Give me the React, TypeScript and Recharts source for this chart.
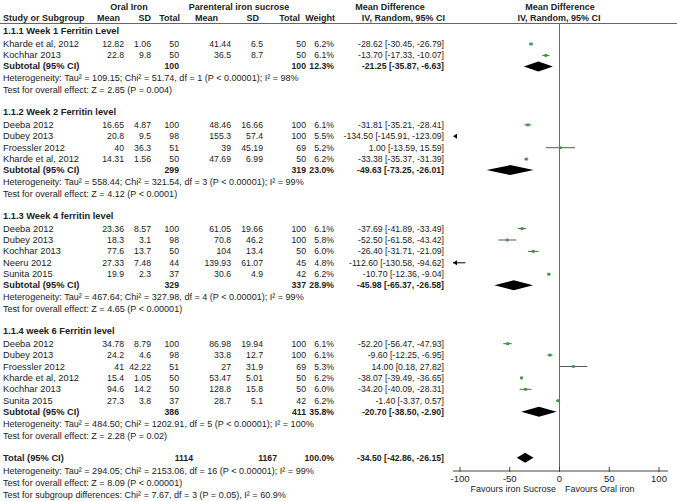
import React from "react";
import {
  ComposedChart,
  XAxis,
  YAxis,
  Scatter,
  ReferenceLine,
  ReferenceArea,
  ReferenceDot
} from "recharts";

type Study = {
  study: string;
  oMean: number;
  oSd: number;
  oN: number;
  pMean: number;
  pSd: number;
  pN: number;
  weight: number;
  md: number;
  lo: number;
  hi: number;
};

type Pooled = { oN: number; pN: number; weight: number; md: number; lo: number; hi: number };

const groupTitles = [
  "1.1.1 Week 1 Ferritin Level",
  "1.1.2 Week 2 Ferritin level",
  "1.1.3 Week 4 ferritin level",
  "1.1.4 week 6 Ferritin level"
];

const week1Studies: Study[] = [
  { study: "Kharde et al, 2012", oMean: 12.82, oSd: 1.06, oN: 50, pMean: 41.44, pSd: 6.5, pN: 50, weight: 6.2, md: -28.62, lo: -30.45, hi: -26.79 },
  { study: "Kochhar 2013", oMean: 22.8, oSd: 9.8, oN: 50, pMean: 36.5, pSd: 8.7, pN: 50, weight: 6.1, md: -13.7, lo: -17.33, hi: -10.07 }
];

const week2Studies: Study[] = [
  { study: "Deeba 2012", oMean: 16.65, oSd: 4.87, oN: 100, pMean: 48.46, pSd: 16.66, pN: 100, weight: 6.1, md: -31.81, lo: -35.21, hi: -28.41 },
  { study: "Dubey 2013", oMean: 20.8, oSd: 9.5, oN: 98, pMean: 155.3, pSd: 57.4, pN: 100, weight: 5.5, md: -134.5, lo: -145.91, hi: -123.09 },
  { study: "Froessler 2012", oMean: 40, oSd: 36.3, oN: 51, pMean: 39, pSd: 45.19, pN: 69, weight: 5.2, md: 1.0, lo: -13.59, hi: 15.59 },
  { study: "Kharde et al, 2012", oMean: 14.31, oSd: 1.56, oN: 50, pMean: 47.69, pSd: 6.99, pN: 50, weight: 6.2, md: -33.38, lo: -35.37, hi: -31.39 }
];

const week4Studies: Study[] = [
  { study: "Deeba 2012", oMean: 23.36, oSd: 8.57, oN: 100, pMean: 61.05, pSd: 19.66, pN: 100, weight: 6.1, md: -37.69, lo: -41.89, hi: -33.49 },
  { study: "Dubey 2013", oMean: 18.3, oSd: 3.1, oN: 98, pMean: 70.8, pSd: 46.2, pN: 100, weight: 5.8, md: -52.5, lo: -61.58, hi: -43.42 },
  { study: "Kochhar 2013", oMean: 77.6, oSd: 13.7, oN: 50, pMean: 104, pSd: 13.4, pN: 50, weight: 6.0, md: -26.4, lo: -31.71, hi: -21.09 },
  { study: "Neeru 2012", oMean: 27.33, oSd: 7.48, oN: 44, pMean: 139.93, pSd: 61.07, pN: 45, weight: 4.8, md: -112.6, lo: -130.58, hi: -94.62 },
  { study: "Sunita 2015", oMean: 19.9, oSd: 2.3, oN: 37, pMean: 30.6, pSd: 4.9, pN: 42, weight: 6.2, md: -10.7, lo: -12.36, hi: -9.04 }
];

const week6Studies: Study[] = [
  { study: "Deeba 2012", oMean: 34.78, oSd: 8.79, oN: 100, pMean: 86.98, pSd: 19.94, pN: 100, weight: 6.1, md: -52.2, lo: -56.47, hi: -47.93 },
  { study: "Dubey 2013", oMean: 24.2, oSd: 4.6, oN: 98, pMean: 33.8, pSd: 12.7, pN: 100, weight: 6.1, md: -9.6, lo: -12.25, hi: -6.95 },
  { study: "Froessler 2012", oMean: 41, oSd: 42.22, oN: 51, pMean: 27, pSd: 31.9, pN: 69, weight: 5.3, md: 14.0, lo: 0.18, hi: 27.82 },
  { study: "Kharde et al, 2012", oMean: 15.4, oSd: 1.05, oN: 50, pMean: 53.47, pSd: 5.01, pN: 50, weight: 6.2, md: -38.07, lo: -39.49, hi: -36.65 },
  { study: "Kochhar 2013", oMean: 94.6, oSd: 14.2, oN: 50, pMean: 128.8, pSd: 15.8, pN: 50, weight: 6.0, md: -34.2, lo: -40.09, hi: -28.31 },
  { study: "Sunita 2015", oMean: 27.3, oSd: 3.8, oN: 37, pMean: 28.7, pSd: 5.1, pN: 42, weight: 6.2, md: -1.4, lo: -3.37, hi: 0.57 }
];

const subtotals: Pooled[] = [
  { oN: 100, pN: 100, weight: 12.3, md: -21.25, lo: -35.87, hi: -6.63 },
  { oN: 299, pN: 319, weight: 23.0, md: -49.63, lo: -73.25, hi: -26.01 },
  { oN: 329, pN: 337, weight: 28.9, md: -45.98, lo: -65.37, hi: -26.58 },
  { oN: 386, pN: 411, weight: 35.8, md: -20.7, lo: -38.5, hi: -2.9 }
];

const heterogeneityNotes = [
  "Heterogeneity: Tau² = 109.15; Chi² = 51.74, df = 1 (P < 0.00001); I² = 98%",
  "Heterogeneity: Tau² = 558.44; Chi² = 321.54, df = 3 (P < 0.00001); I² = 99%",
  "Heterogeneity: Tau² = 467.64; Chi² = 327.98, df = 4 (P < 0.00001); I² = 99%",
  "Heterogeneity: Tau² = 484.50; Chi² = 1202.91, df = 5 (P < 0.00001); I² = 100%"
];

const overallNotes = [
  "Test for overall effect: Z = 2.85 (P = 0.004)",
  "Test for overall effect: Z = 4.12 (P < 0.0001)",
  "Test for overall effect: Z = 4.65 (P < 0.00001)",
  "Test for overall effect: Z = 2.28 (P = 0.02)"
];

const total: Pooled = { oN: 1114, pN: 1167, weight: 100.0, md: -34.5, lo: -42.86, hi: -26.15 };

const totalNotes = [
  "Heterogeneity: Tau² = 294.05; Chi² = 2153.06, df = 16 (P < 0.00001); I² = 99%",
  "Test for overall effect: Z = 8.09 (P < 0.00001)",
  "Test for subgroup differences: Chi² = 7.67, df = 3 (P = 0.05), I² = 60.9%"
];

const xTicks = [-100, -50, 0, 50, 100];
const favourLabels = ["Favours iron Sucrose", "Favours Oral iron"];

const groups = [week1Studies, week2Studies, week4Studies, week6Studies];

const W = 677;
const H = 501;
const AXIS_Y = 471;
const FONT = "'Liberation Sans', Arial, sans-serif";
const FS_TEXT = 9.3; // names, titles
const FS_NOTE = 9.05; // heterogeneity / test lines
const FS_NUM = 8.7; // numeric columns
const FS_HEAD = 9;

// row layout, y values are pixel rows (the y axis maps 1:1)
type Row =
  | { kind: "title"; y: number; text: string }
  | { kind: "study"; y: number; s: Study }
  | { kind: "pooled"; y: number; p: Pooled; label: string; isTotal?: boolean }
  | { kind: "note"; y: number; text: string };

function buildRows(): Row[] {
  const rows: Row[] = [];
  let y = 31;
  groups.forEach((g, gi) => {
    rows.push({ kind: "title", y, text: groupTitles[gi] });
    y += 13;
    g.forEach((s, i) => {
      if (i > 0) y += 11.4;
      rows.push({ kind: "study", y, s });
    });
    y += 11;
    rows.push({ kind: "pooled", y, p: subtotals[gi], label: "Subtotal (95% CI)" });
    y += 12;
    rows.push({ kind: "note", y, text: heterogeneityNotes[gi] });
    y += 12;
    rows.push({ kind: "note", y, text: overallNotes[gi] });
    y += 21.5;
  });
  y += 0.5;
  rows.push({ kind: "pooled", y, p: total, label: "Total (95% CI)", isTotal: true });
  y += 12.8;
  totalNotes.forEach((t, i) => {
    if (i > 0) y += 12;
    rows.push({ kind: "note", y, text: t });
  });
  return rows;
}

const rows = buildRows();
const X_MIN = xTicks[0];
const X_MAX = xTicks[xTicks.length - 1];
const clamp = (v: number) => Math.max(X_MIN, Math.min(X_MAX, v));
const ci = (p: { md: number; lo: number; hi: number }) =>
  `${p.md.toFixed(2)} [${p.lo.toFixed(2)}, ${p.hi.toFixed(2)}]`;

const studyRows = rows.filter((r) => r.kind === "study") as Extract<Row, { kind: "study" }>[];
const pooledRows = rows.filter((r) => r.kind === "pooled") as Extract<Row, { kind: "pooled" }>[];
const squares = studyRows
  .filter((r) => r.s.md >= X_MIN && r.s.md <= X_MAX)
  .map((r) => ({ x: r.s.md, y: r.y, weight: r.s.weight }));

const Square = (props: any) => {
  const side = Math.sqrt(props.payload.weight) * 1.15;
  return (
    <rect x={props.cx - side / 2} y={props.cy - side / 2} width={side} height={side} fill="#3f9a3f" />
  );
};

const Diamond = (props: any) => {
  const { x, y, width, height } = props;
  const cx = props.mdPx ?? x + width / 2;
  return (
    <polygon
      points={`${x},${y + height / 2} ${cx},${y} ${x + width},${y + height / 2} ${cx},${y + height}`}
      fill="#000"
    />
  );
};

const LeftArrow = (props: any) => {
  const { cx, cy, withLine } = props;
  const tip = cx - 7;
  return (
    <g>
      {withLine && <line x1={tip} y1={cy} x2={cx} y2={cy} stroke="#000" strokeWidth={1} />}
      <polygon points={`${tip},${cy} ${tip + 4},${cy - 2.5} ${tip + 4},${cy + 2.5}`} fill="#000" />
    </g>
  );
};

const AxisTick = (props: any) => {
  const { x, y, payload } = props;
  return (
    <g>
      <line x1={x} y1={y - 4} x2={x} y2={y + 1} stroke="#444" />
      <text x={x} y={y + 7} textAnchor="middle" dominantBaseline="central" fontSize={9.5} fontFamily={FONT} fill="#222">
        {payload.value}
      </text>
    </g>
  );
};

const cols = { oMean: 124, oSd: 151, oN: 179, pMean: 231, pSd: 263, pN: 306, weight: 334, ci: 444 };

function Txt(p: {
  x: number;
  y: number;
  children: React.ReactNode;
  bold?: boolean;
  anchor?: "start" | "middle" | "end";
  size?: number;
}) {
  return (
    <text
      x={p.x}
      y={p.y}
      textAnchor={p.anchor ?? "start"}
      dominantBaseline="central"
      fontSize={p.size ?? FS_NUM}
      fontWeight={p.bold ? "bold" : "normal"}
      fontFamily={FONT}
      fill="#222"
    >
      {p.children}
    </text>
  );
}

function TableText() {
  return (
    <svg width={W} height={H} style={{ position: "absolute", left: 0, top: 0, pointerEvents: "none" }}>
      <Txt x={129} y={7} bold anchor="middle" size={FS_HEAD}>Oral Iron</Txt>
      <Txt x={239} y={7} bold anchor="middle" size={FS_HEAD}>Parenteral iron sucrose</Txt>
      <Txt x={390} y={7} bold anchor="middle" size={FS_HEAD}>Mean Difference</Txt>
      <Txt x={560} y={7} bold anchor="middle" size={FS_HEAD}>Mean Difference</Txt>
      <Txt x={3} y={18} bold size={FS_HEAD}>Study or Subgroup</Txt>
      <Txt x={120} y={18} bold anchor="end" size={FS_HEAD}>Mean</Txt>
      <Txt x={151} y={18} bold anchor="end" size={FS_HEAD}>SD</Txt>
      <Txt x={180} y={18} bold anchor="end" size={FS_HEAD}>Total</Txt>
      <Txt x={218} y={18} bold anchor="end" size={FS_HEAD}>Mean</Txt>
      <Txt x={259} y={18} bold anchor="end" size={FS_HEAD}>SD</Txt>
      <Txt x={300} y={18} bold anchor="end" size={FS_HEAD}>Total</Txt>
      <Txt x={335} y={18} bold anchor="end" size={FS_HEAD}>Weight</Txt>
      <Txt x={445} y={18} bold anchor="end" size={FS_HEAD}>IV, Random, 95% CI</Txt>
      <Txt x={559} y={18} bold anchor="middle" size={FS_HEAD}>IV, Random, 95% CI</Txt>
      <line x1={0} y1={23.5} x2={W} y2={23.5} stroke="#666" strokeWidth={1} />
      {rows.map((r, i) => {
        if (r.kind === "title") return <Txt key={i} x={3} y={r.y} bold size={FS_TEXT}>{r.text}</Txt>;
        if (r.kind === "note") return <Txt key={i} x={3} y={r.y} size={FS_NOTE}>{r.text}</Txt>;
        if (r.kind === "study") {
          const s = r.s;
          return (
            <g key={i}>
              <Txt x={3} y={r.y} size={FS_TEXT}>{s.study}</Txt>
              <Txt x={cols.oMean} y={r.y} anchor="end">{s.oMean}</Txt>
              <Txt x={cols.oSd} y={r.y} anchor="end">{s.oSd}</Txt>
              <Txt x={cols.oN} y={r.y} anchor="end">{s.oN}</Txt>
              <Txt x={cols.pMean} y={r.y} anchor="end">{s.pMean}</Txt>
              <Txt x={cols.pSd} y={r.y} anchor="end">{s.pSd}</Txt>
              <Txt x={cols.pN} y={r.y} anchor="end">{s.pN}</Txt>
              <Txt x={cols.weight} y={r.y} anchor="end">{s.weight.toFixed(1)}%</Txt>
              <Txt x={cols.ci} y={r.y} anchor="end">{ci(s)}</Txt>
            </g>
          );
        }
        const p = r.p;
        return (
          <g key={i}>
            <Txt x={3} y={r.y} bold size={FS_TEXT}>{r.label}</Txt>
            <Txt x={r.isTotal ? 193 : cols.oN} y={r.y} bold anchor="end">{p.oN}</Txt>
            <Txt x={r.isTotal ? 277 : cols.pN} y={r.y} bold anchor="end">{p.pN}</Txt>
            <Txt x={cols.weight} y={r.y} bold anchor="end">{p.weight.toFixed(1)}%</Txt>
            <Txt x={cols.ci} y={r.y} bold anchor="end">{ci(p)}</Txt>
          </g>
        );
      })}
      <Txt x={556} y={489} anchor="end" size={9}>{favourLabels[0]}</Txt>
      <Txt x={565} y={489} size={9}>{favourLabels[1]}</Txt>
    </svg>
  );
}

export default function App() {
  return (
    <div style={{ position: "absolute", left: 0, top: 0, width: W, height: H, background: "#fff" }}>
      <ComposedChart width={W} height={H} margin={{ top: 0, right: 9, bottom: 0, left: 453 }}>
        <XAxis
          type="number"
          dataKey="x"
          domain={[X_MIN, X_MAX]}
          ticks={xTicks}
          allowDataOverflow
          padding={{ left: 7, right: 9 }}
          axisLine={{ stroke: "#444" }}
          tickLine={false}
          tickSize={0}
          tickMargin={0}
          height={H - AXIS_Y}
          tick={<AxisTick />}
          interval={0}
        />
        <YAxis type="number" dataKey="y" domain={[0, AXIS_Y]} reversed hide allowDataOverflow />
        <ReferenceLine
          segment={[{ x: 0, y: 23.5 }, { x: 0, y: AXIS_Y }]}
          stroke="#6a6a6a"
          strokeWidth={1}
          ifOverflow="visible"
        />
        {studyRows
          .filter((r) => r.s.hi >= X_MIN)
          .map((r, i) => (
            <ReferenceLine
              key={`ci${i}`}
              segment={[{ x: clamp(r.s.lo), y: r.y }, { x: clamp(r.s.hi), y: r.y }]}
              stroke={r.s.lo < X_MIN ? "#000" : "#5a5a5a"}
              strokeWidth={1}
              ifOverflow="visible"
            />
          ))}
        {studyRows
          .filter((r) => r.s.lo < X_MIN)
          .map((r, i) => (
            <ReferenceDot
              key={`ar${i}`}
              x={X_MIN}
              y={r.y}
              ifOverflow="visible"
              shape={(p: any) => <LeftArrow {...p} withLine={r.s.hi >= X_MIN} />}
            />
          ))}
        {pooledRows.map((r, i) => (
          <ReferenceArea
            key={`d${i}`}
            x1={r.p.lo}
            x2={r.p.hi}
            y1={r.y - 5}
            y2={r.y + 5}
            ifOverflow="visible"
            shape={(p: any) => {
              const span = r.p.hi - r.p.lo;
              const mdPx = p.x + ((r.p.md - r.p.lo) / span) * p.width;
              return <Diamond {...p} mdPx={mdPx} />;
            }}
          />
        ))}
        <Scatter data={squares} shape={<Square />} isAnimationActive={false} />
      </ComposedChart>
      <TableText />
    </div>
  );
}
